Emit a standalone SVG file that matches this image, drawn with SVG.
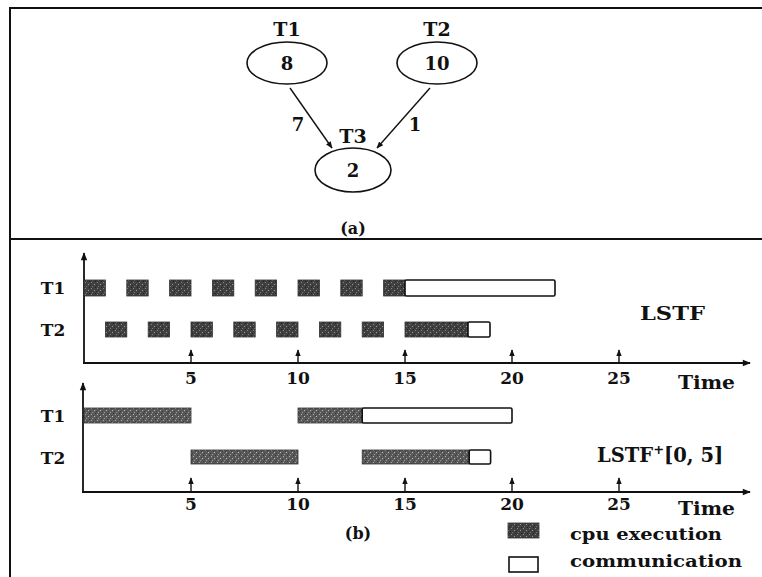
<svg xmlns="http://www.w3.org/2000/svg" width="762" height="577" viewBox="0 0 762 577">
  <defs>
    <style>
      .t { font-family: "DejaVu Serif", "Liberation Serif", serif; font-weight: bold; fill: #111; }
      .c { text-anchor: middle; }
      .edge, .axis, .tick { stroke: #111; fill: none; }
      .edge { stroke-width: 1.4; }
      .axis { stroke-width: 1.8; }
      .tick { stroke-width: 1.4; }
      .node ellipse { fill: #fff; stroke: #111; stroke-width: 1.6; }
      .frame { stroke: #111; stroke-width: 2; fill: none; }
      .cpu { fill: url(#grain); stroke: #333; stroke-width: 0.8; }
      .cpu2 { fill: url(#grain2); stroke: #333; stroke-width: 0.8; }
      .comm { fill: #fff; stroke: #111; stroke-width: 1.6; }
    </style>
    <pattern id="grain" width="6" height="6" patternUnits="userSpaceOnUse">
      <rect width="6" height="6" fill="#404040"/>
      <rect x="1" y="0" width="1" height="1" fill="#888"/>
      <rect x="4" y="2" width="1" height="1" fill="#999"/>
      <rect x="2" y="4" width="1" height="1" fill="#777"/>
      <rect x="5" y="5" width="1" height="1" fill="#222"/>
      <rect x="0" y="3" width="1" height="1" fill="#2a2a2a"/>
    </pattern>
    <pattern id="grain2" width="6" height="6" patternUnits="userSpaceOnUse">
      <rect width="6" height="6" fill="#5a5a5a"/>
      <rect x="1" y="0" width="1" height="1" fill="#aaa"/>
      <rect x="4" y="2" width="1" height="1" fill="#bbb"/>
      <rect x="2" y="4" width="1" height="1" fill="#999"/>
      <rect x="5" y="5" width="1" height="1" fill="#333"/>
      <rect x="0" y="3" width="1" height="1" fill="#3a3a3a"/>
      <rect x="3" y="1" width="1" height="1" fill="#444"/>
    </pattern>
    <marker id="arr" viewBox="0 0 10 10" refX="9" refY="5" markerWidth="7" markerHeight="7" orient="auto" markerUnits="userSpaceOnUse">
      <path d="M0,1 L10,5 L0,9 Z" fill="#111"/>
    </marker>
    <marker id="tip" viewBox="0 0 10 10" refX="9" refY="5" markerWidth="9" markerHeight="8" orient="auto" markerUnits="userSpaceOnUse">
      <path d="M0,1 L10,5 L0,9 Z" fill="#111"/>
    </marker>
  </defs>

  <rect width="762" height="577" fill="#fff"/>

  <!-- outer frame and divider -->
  <path class="frame" d="M10,577 V8 H762 M10,239 H762"/>

  <!-- task graph -->
  <g id="T1" class="node">
    <ellipse cx="287" cy="63" rx="40" ry="21"/>
    <text class="t c" x="287" y="36" font-size="19">T1</text>
    <text class="t c" x="287" y="70" font-size="18">8</text>
  </g>
  <g id="T2" class="node">
    <ellipse cx="437" cy="63" rx="40" ry="21"/>
    <text class="t c" x="437" y="36" font-size="19">T2</text>
    <text class="t c" x="437" y="70" font-size="18">10</text>
  </g>
  <g id="T3" class="node">
    <ellipse cx="353" cy="170" rx="38" ry="22"/>
    <text class="t c" x="353" y="143" font-size="19">T3</text>
    <text class="t c" x="353" y="177" font-size="18">2</text>
  </g>
  <g id="connectors">
    <line class="edge" x1="290" y1="88" x2="332" y2="148" marker-end="url(#arr)"/>
    <line class="edge" x1="430" y1="88" x2="377" y2="148" marker-end="url(#arr)"/>
    <text class="t c" x="298" y="131" font-size="18">7</text>
    <text class="t c" x="415" y="131" font-size="18">1</text>
  </g>
  <text class="t c" x="353" y="234" font-size="16">(a)</text>

  <!-- LSTF schedule -->
  <g id="lstf">
    <line class="axis" x1="84" y1="363" x2="84" y2="253" marker-end="url(#tip)"/>
    <line class="axis" x1="83" y1="363" x2="750" y2="363" marker-end="url(#tip)"/>
    <g class="tick">
      <line x1="191" y1="363" x2="191" y2="350" marker-end="url(#arr)"/>
      <line x1="298" y1="363" x2="298" y2="350" marker-end="url(#arr)"/>
      <line x1="405" y1="363" x2="405" y2="350" marker-end="url(#arr)"/>
      <line x1="512" y1="363" x2="512" y2="350" marker-end="url(#arr)"/>
      <line x1="619" y1="363" x2="619" y2="350" marker-end="url(#arr)"/>
    </g>
    <text class="t c" x="53" y="294" font-size="17">T1</text>
    <text class="t c" x="53" y="336" font-size="17">T2</text>
    <!-- T1: unit slices then communication -->
    <rect class="cpu" x="84" y="280" width="21.4" height="16"/>
    <rect class="cpu" x="126.8" y="280" width="21.4" height="16"/>
    <rect class="cpu" x="169.6" y="280" width="21.4" height="16"/>
    <rect class="cpu" x="212.4" y="280" width="21.4" height="16"/>
    <rect class="cpu" x="255.2" y="280" width="21.4" height="16"/>
    <rect class="cpu" x="298" y="280" width="21.4" height="16"/>
    <rect class="cpu" x="340.8" y="280" width="21.4" height="16"/>
    <rect class="cpu" x="383.6" y="280" width="21.4" height="16"/>
    <rect class="comm" x="405" y="280" width="150" height="16" rx="1.5"/>
    <!-- T2 -->
    <rect class="cpu" x="105.4" y="322" width="21.4" height="15"/>
    <rect class="cpu" x="148.2" y="322" width="21.4" height="15"/>
    <rect class="cpu" x="191" y="322" width="21.4" height="15"/>
    <rect class="cpu" x="233.8" y="322" width="21.4" height="15"/>
    <rect class="cpu" x="276.6" y="322" width="21.4" height="15"/>
    <rect class="cpu" x="319.4" y="322" width="21.4" height="15"/>
    <rect class="cpu" x="362.2" y="322" width="21.4" height="15"/>
    <rect class="cpu" x="405" y="322" width="63" height="15"/>
    <rect class="comm" x="468" y="322" width="22" height="15" rx="1.5"/>
    <text class="t c" x="191" y="384" font-size="17">5</text>
    <text class="t c" x="298" y="384" font-size="17">10</text>
    <text class="t c" x="405" y="384" font-size="17">15</text>
    <text class="t c" x="512" y="384" font-size="17">20</text>
    <text class="t c" x="619" y="384" font-size="17">25</text>
    <text class="t" x="678" y="389" font-size="19" textLength="57" lengthAdjust="spacingAndGlyphs">Time</text>
    <text class="t" x="640" y="320" font-size="19" textLength="65" lengthAdjust="spacingAndGlyphs">LSTF</text>
  </g>

  <!-- LSTF+[0,5] schedule -->
  <g id="lstf-plus">
    <line class="axis" x1="83" y1="492" x2="83" y2="383" marker-end="url(#tip)"/>
    <line class="axis" x1="82" y1="492" x2="750" y2="492" marker-end="url(#tip)"/>
    <g class="tick">
      <line x1="191" y1="492" x2="191" y2="478" marker-end="url(#arr)"/>
      <line x1="298" y1="492" x2="298" y2="478" marker-end="url(#arr)"/>
      <line x1="405" y1="492" x2="405" y2="478" marker-end="url(#arr)"/>
      <line x1="512" y1="492" x2="512" y2="478" marker-end="url(#arr)"/>
      <line x1="619" y1="492" x2="619" y2="478" marker-end="url(#arr)"/>
    </g>
    <text class="t c" x="53" y="422" font-size="17">T1</text>
    <text class="t c" x="53" y="464" font-size="17">T2</text>
    <rect class="cpu2" x="84" y="408" width="107" height="15"/>
    <rect class="cpu2" x="298" y="408" width="64.2" height="15"/>
    <rect class="comm" x="362.2" y="408" width="149.8" height="15" rx="1.5"/>
    <rect class="cpu2" x="191" y="450" width="107" height="14"/>
    <rect class="cpu2" x="362.2" y="450" width="107" height="14"/>
    <rect class="comm" x="469.2" y="450" width="21.4" height="14" rx="1.5"/>
    <text class="t c" x="191" y="510" font-size="17">5</text>
    <text class="t c" x="298" y="510" font-size="17">10</text>
    <text class="t c" x="405" y="510" font-size="17">15</text>
    <text class="t c" x="512" y="510" font-size="17">20</text>
    <text class="t c" x="619" y="510" font-size="17">25</text>
    <text class="t" x="678" y="515" font-size="19" textLength="57" lengthAdjust="spacingAndGlyphs">Time</text>
    <text class="t" x="597" y="462" font-size="19.5">LSTF<tspan font-size="13" dy="-8">+</tspan><tspan dy="8">[0, 5]</tspan></text>
  </g>

  <text class="t c" x="358" y="539" font-size="16">(b)</text>

  <!-- legend -->
  <g id="legend">
    <rect class="cpu" x="508" y="523" width="31" height="15"/>
    <rect class="comm" x="509" y="557" width="29" height="15"/>
    <text class="t" x="570" y="540" font-size="17" textLength="152" lengthAdjust="spacingAndGlyphs">cpu execution</text>
    <text class="t" x="570" y="567" font-size="17" textLength="172" lengthAdjust="spacingAndGlyphs">communication</text>
  </g>
</svg>
